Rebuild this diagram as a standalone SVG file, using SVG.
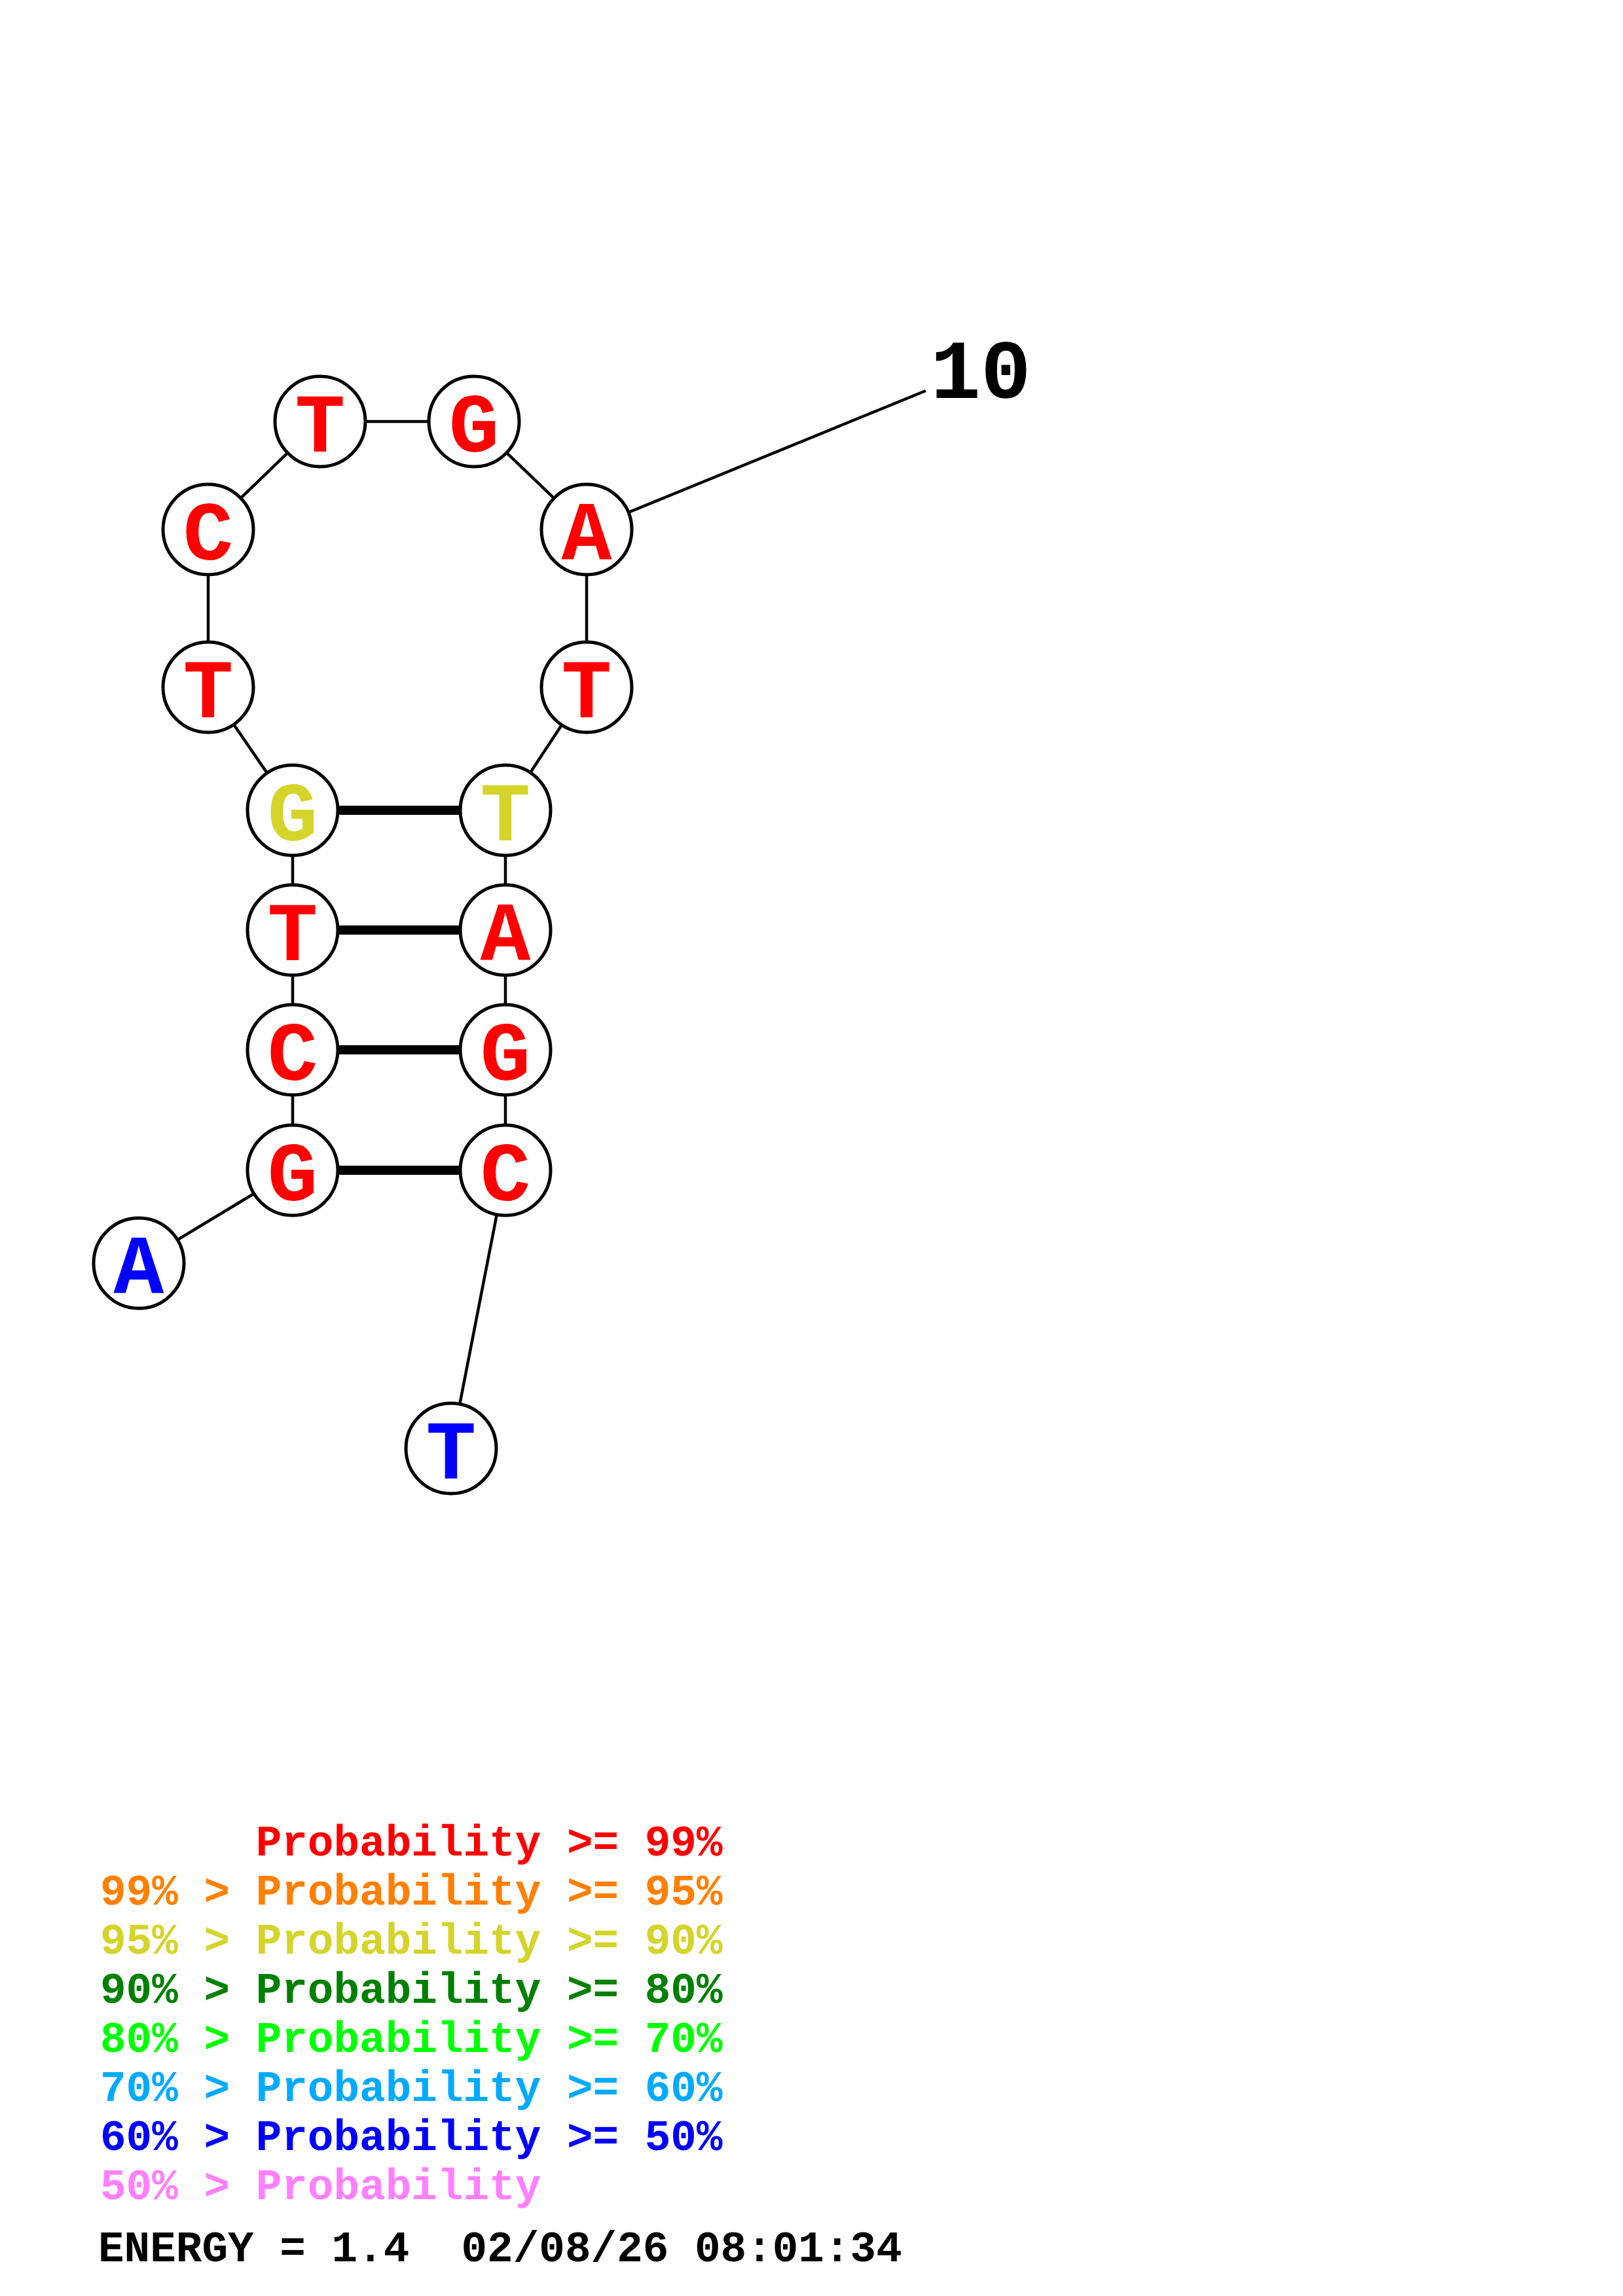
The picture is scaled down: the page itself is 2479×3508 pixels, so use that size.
<svg xmlns="http://www.w3.org/2000/svg" width="2479" height="3508" viewBox="0 0 2479 3508">
<style>
.bg{fill:#fff}
.bb{stroke:#000;stroke-width:4.5;fill:none}
.bp{stroke:#000;stroke-width:14;fill:none}
.nd{fill:#fff;stroke:#000;stroke-width:5}
.nt{font-family:"Liberation Mono","Courier New",monospace;font-weight:bold;font-size:128px;text-anchor:middle}
.lg{font-family:"Liberation Mono","Courier New",monospace;font-weight:bold;font-size:66px}
.r{fill:#ff0000}.o{fill:#ff8000}.y{fill:#d4d42a}.dg{fill:#008000}.g{fill:#00ff00}.lb{fill:#00aaff}.b{fill:#0000ff}.p{fill:#ff80ff}.k{fill:#000}
</style>
<rect class="bg" x="0" y="0" width="2479" height="3508"/>
<g id="connectors">
<line class="bb" x1="489" y1="644" x2="724" y2="644"/>
<line class="bb" x1="318" y1="809" x2="489" y2="644"/>
<line class="bb" x1="724" y1="644" x2="896" y2="809"/>
<line class="bb" x1="318" y1="809" x2="318" y2="1050"/>
<line class="bb" x1="896" y1="809" x2="896" y2="1050"/>
<line class="bb" x1="318" y1="1050" x2="447" y2="1238"/>
<line class="bb" x1="896" y1="1050" x2="772" y2="1238"/>
<line class="bb" x1="447" y1="1238" x2="447" y2="1788"/>
<line class="bb" x1="772" y1="1238" x2="772" y2="1788"/>
<line class="bb" x1="447" y1="1788" x2="212" y2="1930"/>
<line class="bb" x1="772" y1="1788" x2="689" y2="2213"/>
<line class="bb" x1="896" y1="809" x2="1414" y2="597"/>
<line class="bp" x1="447" y1="1238" x2="772" y2="1238"/>
<line class="bp" x1="447" y1="1421" x2="772" y2="1421"/>
<line class="bp" x1="447" y1="1604" x2="772" y2="1604"/>
<line class="bp" x1="447" y1="1788" x2="772" y2="1788"/>
</g>
<g id="n1"><circle class="nd" cx="212" cy="1930" r="69"/><text class="nt b" x="212" y="1976">A</text></g>
<g id="n2"><circle class="nd" cx="447" cy="1788" r="69"/><text class="nt r" x="447" y="1834">G</text></g>
<g id="n3"><circle class="nd" cx="447" cy="1604" r="69"/><text class="nt r" x="447" y="1650">C</text></g>
<g id="n4"><circle class="nd" cx="447" cy="1421" r="69"/><text class="nt r" x="447" y="1467">T</text></g>
<g id="n5"><circle class="nd" cx="447" cy="1238" r="69"/><text class="nt y" x="447" y="1284">G</text></g>
<g id="n6"><circle class="nd" cx="318" cy="1050" r="69"/><text class="nt r" x="318" y="1096">T</text></g>
<g id="n7"><circle class="nd" cx="318" cy="809" r="69"/><text class="nt r" x="318" y="855">C</text></g>
<g id="n8"><circle class="nd" cx="489" cy="644" r="69"/><text class="nt r" x="489" y="690">T</text></g>
<g id="n9"><circle class="nd" cx="724" cy="644" r="69"/><text class="nt r" x="724" y="690">G</text></g>
<g id="n10"><circle class="nd" cx="896" cy="809" r="69"/><text class="nt r" x="896" y="855">A</text></g>
<g id="n11"><circle class="nd" cx="896" cy="1050" r="69"/><text class="nt r" x="896" y="1096">T</text></g>
<g id="n12"><circle class="nd" cx="772" cy="1238" r="69"/><text class="nt y" x="772" y="1284">T</text></g>
<g id="n13"><circle class="nd" cx="772" cy="1421" r="69"/><text class="nt r" x="772" y="1467">A</text></g>
<g id="n14"><circle class="nd" cx="772" cy="1604" r="69"/><text class="nt r" x="772" y="1650">G</text></g>
<g id="n15"><circle class="nd" cx="772" cy="1788" r="69"/><text class="nt r" x="772" y="1834">C</text></g>
<g id="n16"><circle class="nd" cx="689" cy="2213" r="69"/><text class="nt b" x="689" y="2259">T</text></g>
<g id="label10"><text class="nt k" x="1498" y="608">10</text></g>
<g id="legend">
<text class="lg r" x="153" y="2835" xml:space="preserve">      Probability &gt;= 99%</text>
<text class="lg o" x="153" y="2910">99% &gt; Probability &gt;= 95%</text>
<text class="lg y" x="153" y="2985">95% &gt; Probability &gt;= 90%</text>
<text class="lg dg" x="153" y="3060">90% &gt; Probability &gt;= 80%</text>
<text class="lg g" x="153" y="3135">80% &gt; Probability &gt;= 70%</text>
<text class="lg lb" x="153" y="3210">70% &gt; Probability &gt;= 60%</text>
<text class="lg b" x="153" y="3285">60% &gt; Probability &gt;= 50%</text>
<text class="lg p" x="153" y="3360">50% &gt; Probability</text>
<text class="lg k" x="150" y="3455" xml:space="preserve">ENERGY = 1.4  02/08/26 08:01:34</text>
</g>
</svg>
